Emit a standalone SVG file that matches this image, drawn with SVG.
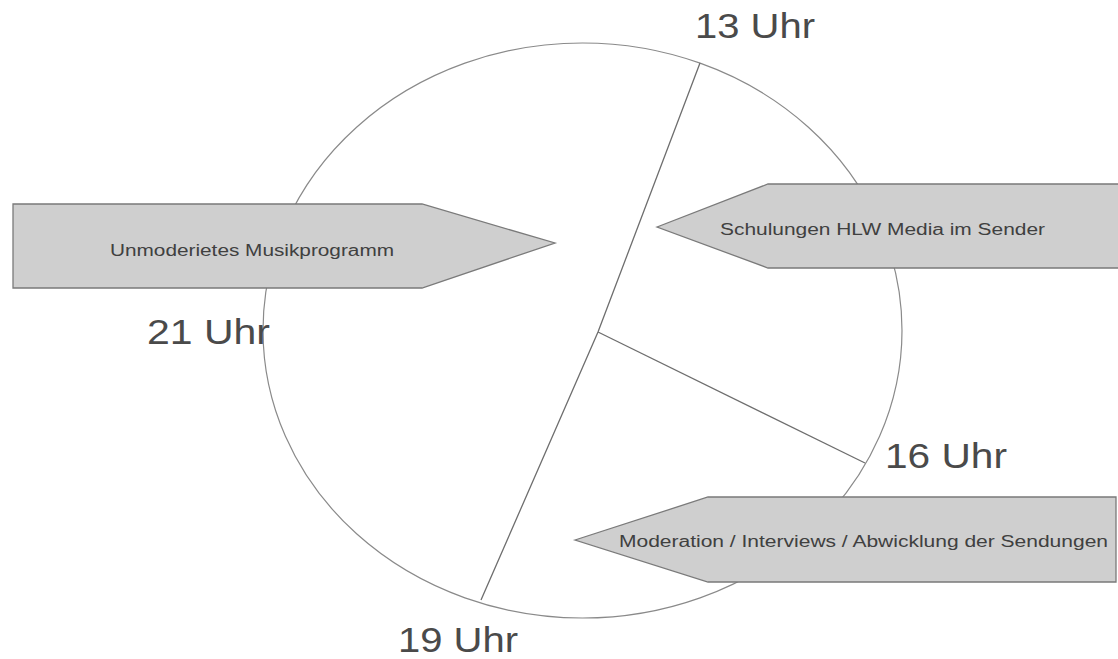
<svg xmlns="http://www.w3.org/2000/svg" width="1118" height="659" viewBox="0 0 1118 659">
<style>
.bg{fill:#ffffff}
.ring{fill:none;stroke:#8a8a8a;stroke-width:1.2}
.conn{fill:none;stroke:#6e6e6e;stroke-width:1.3}
.box{fill:#cfcfcf;stroke:#7a7a7a;stroke-width:1.3}
.btxt{font-family:"Liberation Sans",Arial,sans-serif;font-size:16px;fill:#404040}
.lbl{font-family:"Liberation Sans",Arial,sans-serif;font-size:35px;fill:#4a4a4a}
</style>
<rect class="bg" x="0" y="0" width="1118" height="659"/>
<g id="clock">
<ellipse class="ring" cx="582.5" cy="330.5" rx="319.5" ry="287.5"/>
</g>
<g id="connectors">
<polyline class="conn" points="700,63 598,332 481,600"/>
<line class="conn" x1="598" y1="332" x2="865" y2="463"/>
</g>
<g id="node-musik">
<polygon class="box" points="13,204 422,204 555,243 422,288 13,288"/>
<text class="btxt" x="110" y="256" textLength="284" lengthAdjust="spacingAndGlyphs">Unmoderietes Musikprogramm</text>
</g>
<g id="node-schulungen">
<polygon class="box" points="657,227 768,184 1130,184 1130,268 768,268"/>
<text class="btxt" x="720" y="235" textLength="325" lengthAdjust="spacingAndGlyphs">Schulungen HLW Media im Sender</text>
</g>
<g id="node-moderation">
<polygon class="box" points="575,540 708,497 1116,497 1116,582 708,582"/>
<text class="btxt" x="619" y="547" textLength="489" lengthAdjust="spacingAndGlyphs">Moderation / Interviews / Abwicklung der Sendungen</text>
</g>
<g id="label-13">
<text class="lbl" x="695" y="38" textLength="120" lengthAdjust="spacingAndGlyphs">13 Uhr</text>
</g>
<g id="label-21">
<text class="lbl" x="147" y="344" textLength="123" lengthAdjust="spacingAndGlyphs">21 Uhr</text>
</g>
<g id="label-16">
<text class="lbl" x="885" y="468" textLength="122" lengthAdjust="spacingAndGlyphs">16 Uhr</text>
</g>
<g id="label-19">
<text class="lbl" x="398" y="652" textLength="120" lengthAdjust="spacingAndGlyphs">19 Uhr</text>
</g>
</svg>
